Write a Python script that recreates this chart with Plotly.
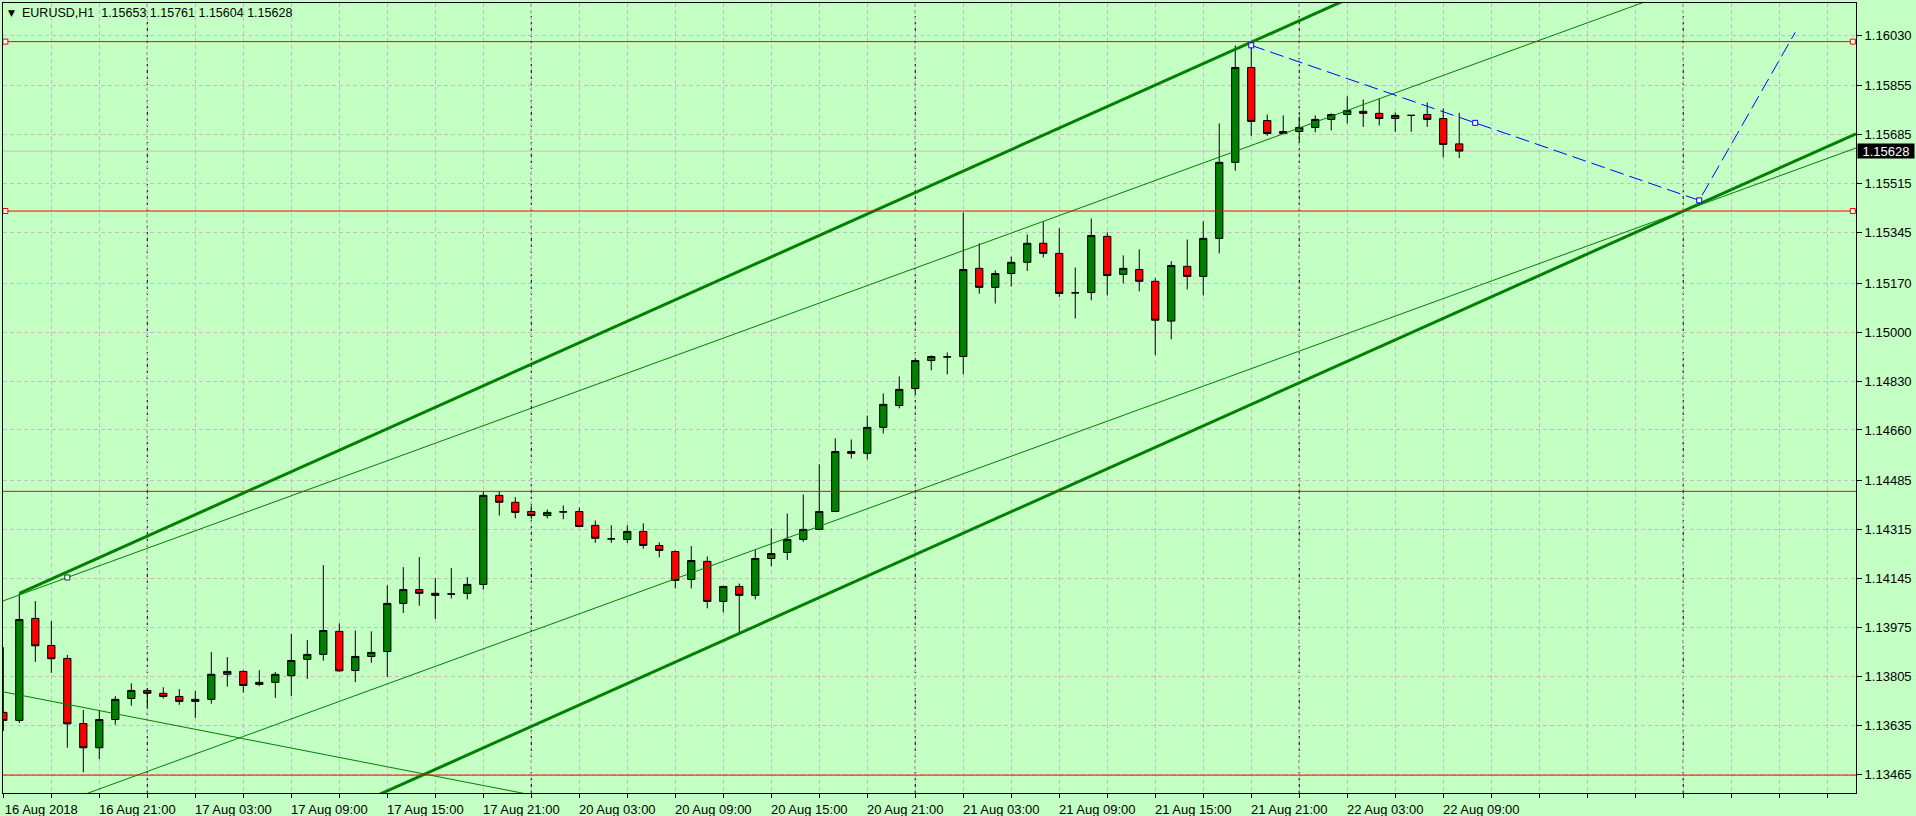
import plotly.graph_objects as go

# EURUSD H1, one bar per hour from 16 Aug 2018 15:00 to 22 Aug 2018 10:00
symbol = "EURUSD,H1"

opens = [1.13680, 1.13652, 1.14006, 1.13912, 1.13867, 1.13641, 1.13557, 1.13655, 1.13728, 1.13756,
         1.13746, 1.13735, 1.13718, 1.13725, 1.13812, 1.13822, 1.13777, 1.13784, 1.13807, 1.13864,
         1.13881, 1.13961, 1.13825, 1.13874, 1.13891, 1.14058, 1.14106, 1.14093, 1.14090, 1.14093,
         1.14124, 1.14433, 1.14409, 1.14377, 1.14363, 1.14375, 1.14377, 1.14329, 1.14282, 1.14280,
         1.14308, 1.14259, 1.14238, 1.14141, 1.14204, 1.14065, 1.14117, 1.14086, 1.14214, 1.14235,
         1.14280, 1.14315, 1.14377, 1.14585, 1.14579, 1.14669, 1.14745, 1.14804, 1.14901, 1.14913,
         1.14915, 1.15221, 1.15155, 1.15203, 1.15242, 1.15308, 1.15273, 1.15136, 1.15137, 1.15332,
         1.15200, 1.15217, 1.15176, 1.15038, 1.15228, 1.15193, 1.15325, 1.15589, 1.15918, 1.15734,
         1.15689, 1.15696, 1.15710, 1.15738, 1.15755, 1.15766, 1.15759, 1.15741, 1.15752, 1.15755,
         1.15741, 1.15653]
highs = [1.13906, 1.14093, 1.14066, 1.13997, 1.13879, 1.13688, 1.13688, 1.13736, 1.13781, 1.13764,
         1.13767, 1.13761, 1.13754, 1.13889, 1.13872, 1.13826, 1.13826, 1.13820, 1.13952, 1.13931,
         1.14191, 1.13989, 1.13964, 1.13961, 1.14121, 1.14184, 1.14219, 1.14146, 1.14181, 1.14149,
         1.14448, 1.14448, 1.14427, 1.14398, 1.14384, 1.14398, 1.14391, 1.14346, 1.14329, 1.14329,
         1.14336, 1.14270, 1.14242, 1.14257, 1.14221, 1.14118, 1.14127, 1.14245, 1.14318, 1.14370,
         1.14436, 1.14541, 1.14631, 1.14627, 1.14710, 1.14787, 1.14846, 1.14903, 1.14919, 1.14929,
         1.15415, 1.15308, 1.15214, 1.15262, 1.15339, 1.15384, 1.15360, 1.15224, 1.15394, 1.15346,
         1.15266, 1.15287, 1.15187, 1.15246, 1.15321, 1.15384, 1.15724, 1.15995, 1.15997, 1.15755,
         1.15752, 1.15748, 1.15752, 1.15759, 1.15818, 1.15807, 1.15811, 1.15762, 1.15753, 1.15797,
         1.15776, 1.15761]
lows = [1.13615, 1.13643, 1.13855, 1.13817, 1.13557, 1.13472, 1.13518, 1.13637, 1.13703, 1.13698,
        1.13728, 1.13706, 1.13661, 1.13710, 1.13769, 1.13748, 1.13771, 1.13730, 1.13737, 1.13796,
        1.13859, 1.13820, 1.13785, 1.13852, 1.13803, 1.14025, 1.14050, 1.14004, 1.14075, 1.14072,
        1.14106, 1.14363, 1.14353, 1.14350, 1.14353, 1.14350, 1.14322, 1.14268, 1.14268, 1.14268,
        1.14248, 1.14218, 1.14110, 1.14110, 1.14041, 1.14027, 1.13954, 1.14072, 1.14187, 1.14209,
        1.14272, 1.14313, 1.14375, 1.14561, 1.14558, 1.14648, 1.14735, 1.14783, 1.14867, 1.14853,
        1.14853, 1.15133, 1.15099, 1.15158, 1.15212, 1.15259, 1.15122, 1.15047, 1.15110, 1.15127,
        1.15169, 1.15141, 1.14920, 1.14975, 1.15148, 1.15127, 1.15273, 1.15560, 1.15681, 1.15681,
        1.15687, 1.15658, 1.15693, 1.15700, 1.15724, 1.15712, 1.15717, 1.15695, 1.15695, 1.15712,
        1.15606, 1.15604]
closes = [1.13652, 1.14002, 1.13911, 1.13866, 1.13640, 1.13557, 1.13655, 1.13725, 1.13756, 1.13746,
          1.13735, 1.13718, 1.13725, 1.13812, 1.13822, 1.13773, 1.13784, 1.13812, 1.13860, 1.13881,
          1.13964, 1.13824, 1.13874, 1.13888, 1.14058, 1.14106, 1.14093, 1.14086, 1.14091, 1.14124,
          1.14433, 1.14409, 1.14374, 1.14363, 1.14374, 1.14376, 1.14325, 1.14284, 1.14282, 1.14308,
          1.14259, 1.14242, 1.14138, 1.14207, 1.14065, 1.14117, 1.14086, 1.14214, 1.14231, 1.14280,
          1.14315, 1.14377, 1.14585, 1.14579, 1.14669, 1.14749, 1.14801, 1.14901, 1.14915, 1.14914,
          1.15217, 1.15155, 1.15203, 1.15242, 1.15308, 1.15273, 1.15134, 1.15136, 1.15335, 1.15196,
          1.15221, 1.15176, 1.15041, 1.15231, 1.15193, 1.15325, 1.15589, 1.15918, 1.15731, 1.15689,
          1.15696, 1.15710, 1.15738, 1.15755, 1.15769, 1.15759, 1.15741, 1.15752, 1.15752, 1.15738,
          1.15651, 1.15628]

# time axis (bar numbers on the chart)
day_start_bars = [9, 33, 57, 81, 105]  # 17, 20, 21, 22, 23 Aug 00:00
label_bars = [0, 6, 12, 18, 24, 30, 36, 42, 48, 54, 60, 66, 72, 78, 84, 90]
label_text = ["16 Aug 2018", "16 Aug 21:00", "17 Aug 03:00", "17 Aug 09:00", "17 Aug 15:00",
              "17 Aug 21:00", "20 Aug 03:00", "20 Aug 09:00", "20 Aug 15:00", "20 Aug 21:00",
              "21 Aug 03:00", "21 Aug 09:00", "21 Aug 15:00", "21 Aug 21:00", "22 Aug 03:00",
              "22 Aug 09:00"]
grid_step = 3
price_ticks = [1.16030, 1.15855, 1.15685, 1.15515, 1.15345, 1.15170, 1.15000, 1.14830,
               1.14660, 1.14485, 1.14315, 1.14145, 1.13975, 1.13805, 1.13635, 1.13465]

# drawn objects
hline_prices = [1.16008, 1.15420, 1.14447, 1.13462]
hline_selected = [True, True, False, False]
chan_a_bars, chan_a_prices = [1, 78], [1.14093, 1.16006]   # thick channel, upper
chan_a_low = (46, 1.13954)                                  # thick channel, lower line point
chan_b_bars, chan_b_prices = [4, 80], [1.14148, 1.15688]   # thin channel, upper
chan_b_low = (105, 1.15420)                                 # thin channel, lower line point
fall_bars, fall_prices = [0, 30], [1.13751, 1.13426]
path_bars, path_prices = [78, 106, 112], [1.15995, 1.15457, 1.16040]

x_min, x_max = -0.02, 115.8
y_min, y_max = 1.13400, 1.16142

BG = "#C4FFC4"
GRID = "#C0C0C0"
GREEN = "#008000"
FONT = "Liberation Sans"
FSIZE = 13

bar_x = list(range(len(opens)))

fig = go.Figure()

fig.add_trace(go.Candlestick(
    x=bar_x, open=opens, high=highs, low=lows, close=closes,
    increasing=dict(fillcolor=GREEN, line=dict(color="black", width=1)),
    decreasing=dict(fillcolor="#FF0000", line=dict(color="black", width=1)),
    whiskerwidth=0, hoverinfo="skip", showlegend=False
))


def slope_of(bars, prices):
    return (prices[1] - prices[0]) / (bars[1] - bars[0])


def line_trace(xs, ys, width, color=GREEN, dash=None):
    return go.Scatter(x=xs, y=ys, mode="lines", hoverinfo="skip", showlegend=False,
                      line=dict(color=color, width=width, dash=dash))


# thick equidistant channel
ka = slope_of(chan_a_bars, chan_a_prices)
fig.add_trace(line_trace([chan_a_bars[0], x_max],
                         [chan_a_prices[0], chan_a_prices[0] + ka * (x_max - chan_a_bars[0])], 3))
fig.add_trace(line_trace([x_min - 5, x_max],
                         [chan_a_low[1] + ka * (x_min - 5 - chan_a_low[0]),
                          chan_a_low[1] + ka * (x_max - chan_a_low[0])], 3))

# thin channel
kb = slope_of(chan_b_bars, chan_b_prices)
fig.add_trace(line_trace([x_min - 5, x_max],
                         [chan_b_prices[0] + kb * (x_min - 5 - chan_b_bars[0]),
                          chan_b_prices[0] + kb * (x_max - chan_b_bars[0])], 1))
fig.add_trace(line_trace([x_min - 5, x_max],
                         [chan_b_low[1] + kb * (x_min - 5 - chan_b_low[0]),
                          chan_b_low[1] + kb * (x_max - chan_b_low[0])], 1))
fig.add_trace(go.Scatter(x=[chan_b_bars[0]], y=[chan_b_prices[0]], mode="markers",
                         hoverinfo="skip", showlegend=False,
                         marker=dict(symbol="square", size=5, color="white",
                                     line=dict(color="#004000", width=1))))

# falling line
kf = slope_of(fall_bars, fall_prices)
fig.add_trace(line_trace([x_min - 5, 40],
                         [fall_prices[0] + kf * (x_min - 5 - fall_bars[0]),
                          fall_prices[0] + kf * (40 - fall_bars[0])], 1))

# horizontal levels
for price, sel in zip(hline_prices, hline_selected):
    fig.add_trace(line_trace([x_min, x_max], [price, price], 1, color="#FF0000"))
    if sel:
        fig.add_trace(go.Scatter(x=[0.13, 115.6], y=[price, price], mode="markers",
                                 hoverinfo="skip", showlegend=False, cliponaxis=False,
                                 marker=dict(symbol="square", size=5, color="white",
                                             line=dict(color="#FF0000", width=1))))

# projected path (blue dashed)
fig.add_trace(line_trace(path_bars, path_prices, 1, color="#0000FF", dash="14px,6px"))
mid_x = (path_bars[0] + path_bars[1]) / 2
mid_y = (path_prices[0] + path_prices[1]) / 2
fig.add_trace(go.Scatter(x=[path_bars[0], mid_x, path_bars[1]],
                         y=[path_prices[0], mid_y, path_prices[1]], mode="markers",
                         hoverinfo="skip", showlegend=False,
                         marker=dict(symbol="square", size=5, color="white",
                                     line=dict(color="#0000FF", width=1))))

# day separators and bid line
shapes = []
for b in day_start_bars:
    shapes.append(dict(type="line", xref="x", yref="paper", x0=b, x1=b, y0=0, y1=1,
                       layer="below", line=dict(color="black", width=1, dash="3px,3px")))
shapes.append(dict(type="line", xref="paper", yref="y", x0=0, x1=1,
                   y0=closes[-1], y1=closes[-1], layer="below",
                   line=dict(color="#C0C0C0", width=1)))

tick_vals = list(range(0, int(x_max) + 1, grid_step))
tick_text = [label_text[label_bars.index(v)] if v in label_bars else "" for v in tick_vals]

fig.update_layout(
    width=1916, height=816,
    margin=dict(l=3, r=60, t=3, b=23),
    paper_bgcolor=BG, plot_bgcolor=BG,
    font=dict(family=FONT, size=FSIZE, color="black"),
    showlegend=False, boxgap=0.35, shapes=shapes,
    xaxis=dict(range=[x_min, x_max], tickmode="array", tickvals=tick_vals, ticktext=tick_text,
               showgrid=True, gridcolor=GRID, gridwidth=1, griddash="4px,3px",
               ticks="outside", ticklen=4, tickcolor="black", ticklabelshift=38,
               showline=True, linecolor="black", linewidth=1, mirror=True,
               zeroline=False, rangeslider=dict(visible=False), fixedrange=True,
               automargin=False),
    yaxis=dict(range=[y_min, y_max], side="right", tickmode="array", tickvals=price_ticks,
               ticktext=[f"{v:.5f}" for v in price_ticks],
               showgrid=True, gridcolor=GRID, gridwidth=1, griddash="4px,3px",
               ticks="outside", ticklen=5, tickcolor="black",
               showline=True, linecolor="black", linewidth=1, mirror=True,
               zeroline=False, fixedrange=True, automargin=False),
)

# header
fig.add_annotation(xref="paper", yref="paper", x=0, y=1, xanchor="left", yanchor="middle",
                   xshift=3, yshift=-10, text="▼", showarrow=False,
                   font=dict(family="DejaVu Sans", size=9, color="black"))
fig.add_annotation(xref="paper", yref="paper", x=0, y=1, xanchor="left", yanchor="middle",
                   xshift=17, yshift=-10, showarrow=False,
                   text=f"{symbol}  {opens[-1]:.5f} {highs[-1]:.5f} {lows[-1]:.5f} {closes[-1]:.5f}",
                   font=dict(family=FONT, size=12.5, color="black"))

# current price label
fig.add_annotation(xref="paper", yref="y", x=1, y=closes[-1], xanchor="left", yanchor="middle",
                   xshift=1, showarrow=False, text=f"{closes[-1]:.5f}",
                   bgcolor="black", width=54, height=12, borderpad=1,
                   font=dict(family=FONT, size=FSIZE, color="white"))

fig.write_html("out.html", config={"displayModeBar": False},
               post_script="document.body.style.margin='0';")
